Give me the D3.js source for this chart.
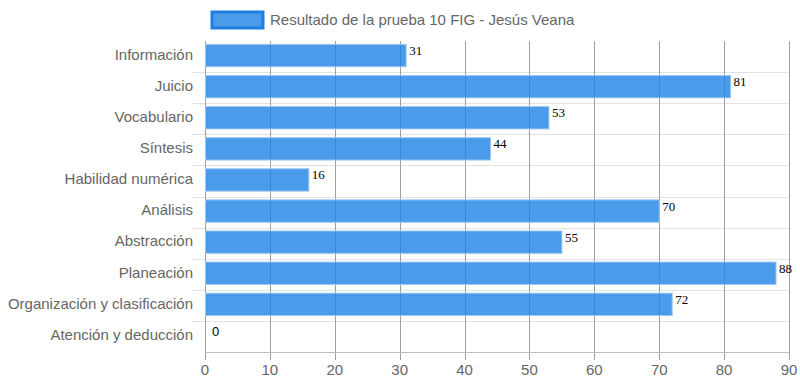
<!DOCTYPE html>
<html>
<head>
<meta charset="utf-8">
<script src="https://cdn.jsdelivr.net/npm/d3@7"></script>
<style>
  body { margin: 0; background: #fff; }
  svg text { font-family: "Liberation Sans", Arial, sans-serif; }
</style>
</head>
<body>
<div id="chart"></div>
<script>
const categories = ["Información", "Juicio", "Vocabulario", "Síntesis", "Habilidad numérica",
  "Análisis", "Abstracción", "Planeación", "Organización y clasificación", "Atención y deducción"];
const scores = [31, 81, 53, 44, 16, 70, 55, 88, 72, 0];
const xTicks = [0, 10, 20, 30, 40, 50, 60, 70, 80, 90];
const seriesName = "Resultado de la prueba 10 FIG - Jesús Veana";

const size = {width: 800, height: 386};
const margin = {top: 41, right: 11, bottom: 34, left: 205};
const width = size.width - margin.left - margin.right;
const height = size.height - margin.top - margin.bottom;

const svg = d3.select("#chart").append("svg")
    .attr("width", size.width)
    .attr("height", size.height);

const g = svg.append("g")
    .attr("transform", "translate(" + margin.left + "," + margin.top + ")");

const xScale = d3.scaleLinear().domain([0, 90]).range([0, width]);
const yScale = d3.scaleBand().domain(categories).range([0, height]);
const barH = yScale.bandwidth() * 0.72;

// horizontal grid lines between categories (skip top)
g.append("g").selectAll("line")
    .data(categories.slice(1))
    .join("line")
    .attr("x1", -13).attr("x2", width)
    .attr("y1", d => Math.round(yScale(d)) + 0.5)
    .attr("y2", d => Math.round(yScale(d)) + 0.5)
    .attr("stroke", "#e3e3e3");

// vertical grid lines
g.append("g").selectAll("line")
    .data(xTicks)
    .join("line")
    .attr("x1", d => Math.round(xScale(d)) + 0.5)
    .attr("x2", d => Math.round(xScale(d)) + 0.5)
    .attr("y1", 0).attr("y2", height + 8)
    .attr("stroke", "#a0a0a0");

// bottom axis line
g.append("line")
    .attr("x1", 0).attr("x2", width)
    .attr("y1", Math.round(height) + 0.5).attr("y2", Math.round(height) + 0.5)
    .attr("stroke", "#bdbdbd");

// bars
g.append("g").selectAll("rect")
    .data(scores)
    .join("rect")
    .attr("x", 0.5)
    .attr("y", (d, i) => yScale(categories[i]) + (yScale.bandwidth() - barH) / 2 - 1)
    .attr("width", d => Math.max(0, xScale(d) - 0.5))
    .attr("height", barH)
    .attr("fill", "rgb(30,130,230)")
    .attr("fill-opacity", 0.8)
    .attr("stroke", "#9cc8f2")
    .attr("stroke-width", d => d > 0 ? 1 : 0);

// value labels
g.append("g").selectAll("text")
    .data(scores)
    .join("text")
    .attr("x", d => xScale(d) + (d > 0 ? 3 : 7))
    .attr("y", (d, i) => yScale(categories[i]) + yScale.bandwidth() / 2 - (d > 0 ? 1.5 : 0))
    .style("font-family", d => d > 0 ? "'Liberation Serif', 'Times New Roman', serif" : "'Liberation Sans', Arial, sans-serif")
    .attr("font-size", 13)
    .attr("fill", "#000")
    .text(d => d);

// y labels
g.append("g").selectAll("text")
    .data(categories)
    .join("text")
    .attr("x", -12)
    .attr("y", d => yScale(d) + yScale.bandwidth() / 2 - 2)
    .attr("dy", "0.35em")
    .attr("text-anchor", "end")
    .attr("font-size", 15)
    .attr("fill", "#666")
    .text(d => d);

// x labels
g.append("g").selectAll("text")
    .data(xTicks)
    .join("text")
    .attr("x", d => xScale(d))
    .attr("y", height + 18)
    .attr("dy", "0.35em")
    .attr("text-anchor", "middle")
    .attr("font-size", 15)
    .attr("fill", "#666")
    .text(d => d);

// legend
const legend = svg.append("g").attr("transform", "translate(212,12)");
legend.append("rect")
    .attr("width", 51).attr("height", 16)
    .attr("fill", "rgb(30,130,230)").attr("fill-opacity", 0.8)
    .attr("stroke", "#1e7fe3").attr("stroke-width", 3);
legend.append("text")
    .attr("x", 58).attr("y", 8)
    .attr("dy", "0.35em")
    .attr("font-size", 15)
    .attr("fill", "#666")
    .text(seriesName);
</script>
</body>
</html>
